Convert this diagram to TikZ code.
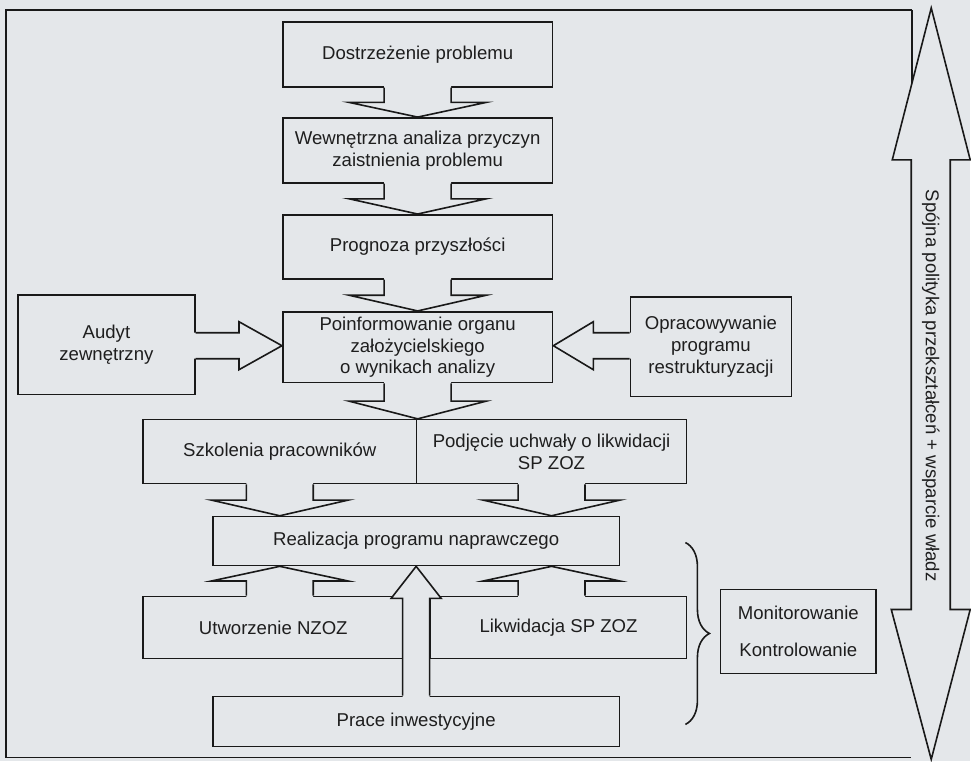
\documentclass[tikz,border=0pt]{standalone}
\usepackage{fontspec}
\setmainfont{Liberation Sans}
\usetikzlibrary{calc,decorations.pathreplacing}
\definecolor{bgc}{RGB}{228,231,234}
\definecolor{ink}{RGB}{25,25,25}
\definecolor{txt}{RGB}{30,30,30}
% vertical block arrow: from anchor #1 (shaft start) to anchor #2 (tip)
\newcommand\blkv[2]{%
  \fill[bgc] let \p1=(#1), \p2=(#2), \n1={(\y1+\y2)/2}, \n2={\y1-2pt*sign(\y2-\y1)} in
    ({\x1-33.5pt},\n2) -- ({\x1-33.5pt},\n1) -- ({\x1-68.5pt},\n1) -- (\x1,\y2)
    -- ({\x1+68.5pt},\n1) -- ({\x1+33.5pt},\n1) -- ({\x1+33.5pt},\n2) -- cycle;
  \draw[blk] let \p1=(#1), \p2=(#2), \n1={(\y1+\y2)/2} in
    ({\x1-33.5pt},\y1) -- ({\x1-33.5pt},\n1) -- ({\x1-68.5pt},\n1) -- (\x1,\y2)
    -- ({\x1+68.5pt},\n1) -- ({\x1+33.5pt},\n1) -- ({\x1+33.5pt},\y1);}
% horizontal block arrow: from, to, head length (signed)
\newcommand\blkh[3]{%
  \fill[bgc] let \p1=(#1), \p2=(#2), \n1={\x2-(#3)}, \n2={\x1-2pt*sign(\x2-\x1)} in
    (\n2,{\y1+13pt}) -- (\n1,{\y1+13pt}) -- (\n1,{\y1+24pt}) -- (\x2,\y1)
    -- (\n1,{\y1-24pt}) -- (\n1,{\y1-13pt}) -- (\n2,{\y1-13pt}) -- cycle;
  \draw[blk] let \p1=(#1), \p2=(#2), \n1={\x2-(#3)} in
    (\x1,{\y1+13pt}) -- (\n1,{\y1+13pt}) -- (\n1,{\y1+24pt}) -- (\x2,\y1)
    -- (\n1,{\y1-24pt}) -- (\n1,{\y1-13pt}) -- (\x1,{\y1-13pt});}
\begin{document}
\begin{tikzpicture}[x=1pt,y=-1pt,
  blk/.style={draw=ink,line width=1.6pt,line join=miter},
  box/.style={draw=ink,line width=1.6pt,inner sep=0pt,align=center,text=txt,
    font=\fontsize{18.6}{21.7}\selectfont},
  lbl/.style={inner sep=0pt,text=txt,font=\fontsize{18.6}{21.7}\selectfont}]
\fill[bgc] (0,0) rectangle (971,762);
% outer frame
\draw[ink,line width=1.6pt] (913,10) -- (6,10) -- (6,758) -- (912,758);
\draw[ink,line width=1.6pt] (913,10) -- (913,90);
% boxes
\node[box,minimum width=270pt,minimum height=65pt] (dost) at (418,54.5) {Dostrzeżenie problemu};
\node[box,minimum width=270pt,minimum height=65pt] (wew) at (418,150.5) {Wewnętrzna analiza przyczyn\\zaistnienia problemu};
\node[box,minimum width=270pt,minimum height=64pt] (prog) at (418,247) {Prognoza przyszłości};
\node[box,minimum width=270pt,minimum height=71pt] (poin) at (418,347.5) {Poinformowanie organu\\założycielskiego\\o wynikach analizy};
\node[box,minimum width=177pt,minimum height=100pt] (aud) at (106.5,345) {Audyt\\zewnętrzny};
\node[box,minimum width=161pt,minimum height=100pt] (opr) at (711.5,347) {Opracowywanie\\programu\\restrukturyzacji};
\node[box,minimum width=274pt,minimum height=64pt] (szk) at (280,452) {Szkolenia pracowników};
\node[box,minimum width=270pt,minimum height=64pt] (podj) at (552,452) {Podjęcie uchwały o likwidacji\\SP ZOZ};
\node[box,minimum width=407pt,minimum height=49pt] (real) at (416.5,541.5) {Realizacja programu naprawczego};
\node[box,minimum width=261pt,minimum height=62pt] (utw) at (273.5,628) {Utworzenie NZOZ};
\node[box,minimum width=256pt,minimum height=62pt] (lik) at (559,628) {Likwidacja SP ZOZ};
\node[box,minimum width=407pt,minimum height=50pt] (prace) at (416.5,722) {Prace inwestycyjne};
\node[box,minimum width=156pt,minimum height=84pt] (mon) at (799,632) {Monitorowanie\\[16pt]Kontrolowanie};
% block arrows
\blkv{dost.south}{wew.north}
\blkv{wew.south}{prog.north}
\blkv{prog.south}{poin.north}
\blkv{poin.south}{poin.south |- szk.north}
\blkv{szk.south}{szk.south |- real.north}
\blkv{podj.south}{podj.south |- real.north}
\blkv{utw.north -| szk.south}{real.south -| szk.south}
\blkv{lik.north -| podj.south}{real.south -| podj.south}
\blkh{aud.east |- 0,346}{poin.west |- 0,346}{43pt}
\blkh{opr.west |- 0,346}{poin.east |- 0,346}{-40pt}
% big up arrow from Prace
\fill[bgc] let \p1=(prace.north), \p2=(real.south) in
  ({\x1-13.5pt},{\y1-2pt}) -- ({\x1-13.5pt},{\y2-32pt}) -- ({\x1-25pt},{\y2-32pt}) -- (\x1,\y2)
  -- ({\x1+25pt},{\y2-32pt}) -- ({\x1+13.5pt},{\y2-32pt}) -- ({\x1+13.5pt},{\y1-2pt}) -- cycle;
\draw[blk] let \p1=(prace.north), \p2=(real.south) in
  ({\x1-13.5pt},\y1) -- ({\x1-13.5pt},{\y2-32pt}) -- ({\x1-25pt},{\y2-32pt}) -- (\x1,\y2)
  -- ({\x1+25pt},{\y2-32pt}) -- ({\x1+13.5pt},{\y2-32pt}) -- ({\x1+13.5pt},\y1);
% brace
\coordinate (bt) at (686,543);
\coordinate (bb) at (686,725);
\draw[ink,line width=1.6pt,decorate,decoration={brace,amplitude=24pt,aspect=0.5}] (bt) -- (bb);
% side double arrow
\draw[blk,fill=bgc] (932,8) -- (971,160) -- (951,160) -- (951,610) -- (971,610) -- (932,760)
  -- (892,610) -- (912,610) -- (912,160) -- (893,160) -- cycle;
\node[lbl,rotate=-90] (side) at (931.5,386) {Spójna polityka przekształceń + wsparcie władz};
\end{tikzpicture}
\end{document}
